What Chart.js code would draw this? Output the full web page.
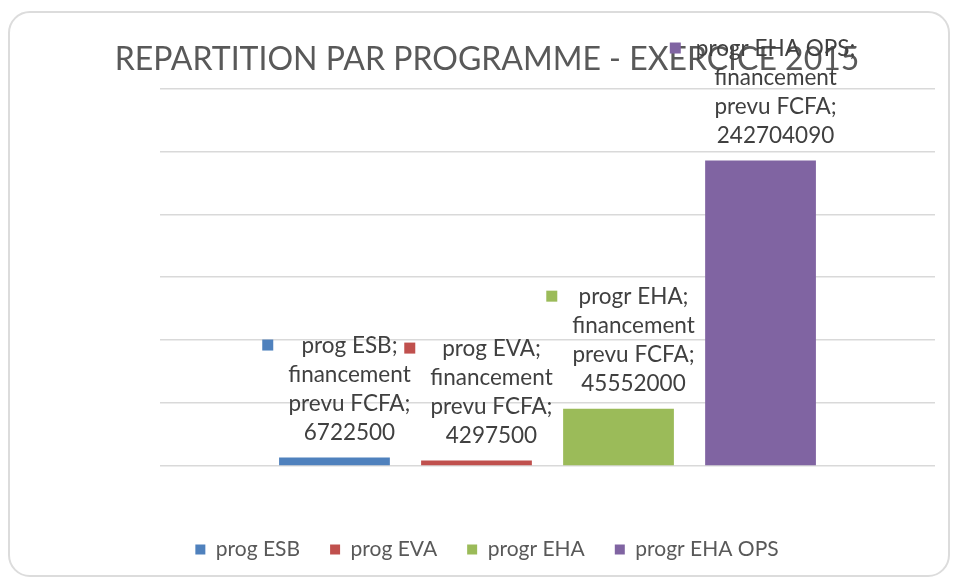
<!DOCTYPE html>
<html>
<head>
<meta charset="utf-8">
<script src="https://cdn.jsdelivr.net/npm/chart.js@4.4.0/dist/chart.umd.min.js"></script>
<style>
  html, body { margin: 0; padding: 0; background: #fff; }
  #wrap { position: relative; width: 955px; height: 582px; }
  #card {
    position: absolute; left: 8px; top: 11px; width: 938px; height: 562px;
    border: 2px solid #dcdcdc; border-radius: 22px; background: #fff;
  }
  #chart { position: absolute; left: 0; top: 0; }
</style>
</head>
<body>
<div id="wrap">
  <div id="card"></div>
  <canvas id="chart" width="955" height="582"></canvas>
</div>
<script>
// Data
const programmes = ['prog ESB', 'prog EVA', 'progr EHA', 'progr EHA OPS'];
const financement = [6722500, 4297500, 45552000, 242704090];
const yTicks = [0, 50000000, 100000000, 150000000, 200000000, 250000000, 300000000];

// Office colours
const colors = ['#4F81BD', '#C0504D', '#9BBB59', '#8064A2'];

const FONT = 'Lato, "Open Sans", sans-serif';
const TEXT_COLOR = '#595959';

// Data labels: coloured key + 4 lines above each bar
const labelPlugin = {
    id: 'barLabels',
    afterDatasetsDraw(chart) {
        const ctx = chart.ctx;
        ctx.save();
        ctx.font = '22.5px ' + FONT;
        ctx.textAlign = 'center';
        ctx.textBaseline = 'middle';
        chart.data.datasets.forEach((ds, i) => {
            const bar = chart.getDatasetMeta(i).data[0];
            const lines = [ds.label + ';', 'financement', 'prevu FCFA;', String(ds.data[0])];
            const cx = bar.x + 15;
            const lh = 29;
            const bottom = bar.y - 25;
            let maxW = 0;
            lines.forEach(l => { maxW = Math.max(maxW, ctx.measureText(l).width); });
            lines.forEach((l, k) => {
                ctx.fillStyle = '#404040';
                ctx.fillText(l, cx, bottom - (lines.length - 1 - k) * lh);
            });
            const top = bottom - (lines.length - 1) * lh;
            ctx.fillStyle = colors[i];
            ctx.fillRect(cx - maxW / 2 - 26, top - 6, 11, 11);
        });
        ctx.restore();
    }
};

new Chart(document.getElementById('chart'), {
    type: 'bar',
    data: {
        labels: [''],
        datasets: programmes.map((p, i) => ({
            label: p,
            data: [financement[i]],
            backgroundColor: colors[i],
            borderWidth: 0,
            categoryPercentage: 0.733,
            barPercentage: 0.78
        }))
    },
    options: {
        responsive: false,
        animation: false,
        layout: { padding: { left: 39, right: 20, top: 0, bottom: 12 } },
        scales: {
            x: {
                display: true,
                ticks: { display: false },
                grid: { display: false },
                border: { display: false },
                afterFit: axis => { axis.height = 43; }
            },
            y: {
                min: 0,
                max: 300000000,
                afterBuildTicks: axis => { axis.ticks = yTicks.map(v => ({ value: v })); },
                afterFit: axis => { axis.width = 121; },
                ticks: { display: false },
                border: { display: false },
                grid: { color: '#d9d9d9', lineWidth: 1.5, drawTicks: false }
            }
        },
        plugins: {
            title: {
                display: true,
                text: 'REPARTITION PAR PROGRAMME - EXERCICE 2015',
                color: TEXT_COLOR,
                font: { family: FONT, size: 32, weight: 'normal' },
                padding: { top: 40, bottom: 10 }
            },
            legend: {
                position: 'bottom',
                labels: {
                    color: TEXT_COLOR,
                    font: { family: FONT, size: 21 },
                    boxWidth: 10,
                    boxHeight: 10,
                    padding: 30
                }
            },
            tooltip: { enabled: false }
        }
    },
    plugins: [labelPlugin]
});
</script>
</body>
</html>
